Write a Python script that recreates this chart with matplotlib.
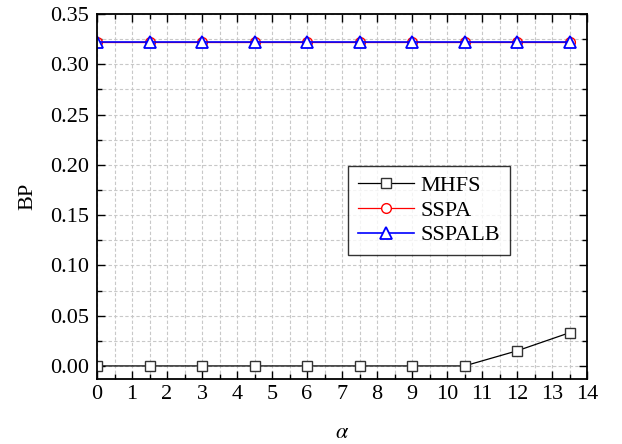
import matplotlib
matplotlib.use("Agg")
import matplotlib.pyplot as plt
from matplotlib.ticker import MultipleLocator

plt.rcParams["font.family"] = ["Liberation Serif", "DejaVu Serif"]
plt.rcParams["mathtext.fontset"] = "stix"

alpha = [0, 1.5, 3, 4.5, 6, 7.5, 9, 10.5, 12, 13.5]
bp_mhfs = [0.0, 0.0, 0.0, 0.0, 0.0, 0.0, 0.0, 0.0, 0.015, 0.033]
bp_sspa = [0.322] * 10
bp_sspalb = [0.322] * 10

fig = plt.figure(figsize=(6.22, 4.44), dpi=100)
ax = fig.add_axes([97 / 622, 1 - 379 / 444, 490 / 622, 365 / 444])

ax.plot(alpha, bp_mhfs, color="black", lw=0.9, marker="s", ms=6.5,
        mfc="white", mec="#333333", mew=1.0, label="MHFS")
ax.plot(alpha, bp_sspa, color="red", lw=0.9, marker="o", ms=7,
        mfc="white", mec="red", mew=1.0, label="SSPA")
ax.plot(alpha, bp_sspalb, color="blue", lw=1.2, marker="^", ms=8,
        mfc="white", mec="blue", mew=1.3, label="SSPALB")

ax.set_xlim(0, 14)
ax.set_ylim(-0.013, 0.35)
ax.xaxis.set_major_locator(MultipleLocator(1))
ax.xaxis.set_minor_locator(MultipleLocator(0.5))
ax.yaxis.set_major_locator(MultipleLocator(0.05))
ax.yaxis.set_minor_locator(MultipleLocator(0.025))
ax.yaxis.set_major_formatter(plt.FormatStrFormatter("%.2f"))

ax.grid(True, which="both", ls=(0, (3, 2)), color="#c8c8c8", lw=0.8)
ax.set_axisbelow(True)
ax.tick_params(which="both", direction="in", top=True, right=True, width=1.0)
ax.tick_params(which="major", length=6, labelsize=16)
ax.tick_params(axis="x", which="major", pad=4)
ax.tick_params(axis="y", which="major", pad=6)
ax.tick_params(which="minor", length=3.5)
for s in ax.spines.values():
    s.set_linewidth(1.3)

ax.set_xlabel(r"$\alpha$", fontsize=16, labelpad=15)
ax.set_ylabel("BP", fontsize=16, labelpad=9)

leg = ax.legend(loc="upper left", bbox_to_anchor=(0.49, 0.615), fontsize=16,
                frameon=True, fancybox=False, edgecolor="black",
                handlelength=2.5, borderpad=0.45, labelspacing=0.18,
                handletextpad=0.3)
leg.get_frame().set_linewidth(1.0)

fig.savefig("out.png", dpi=100)
